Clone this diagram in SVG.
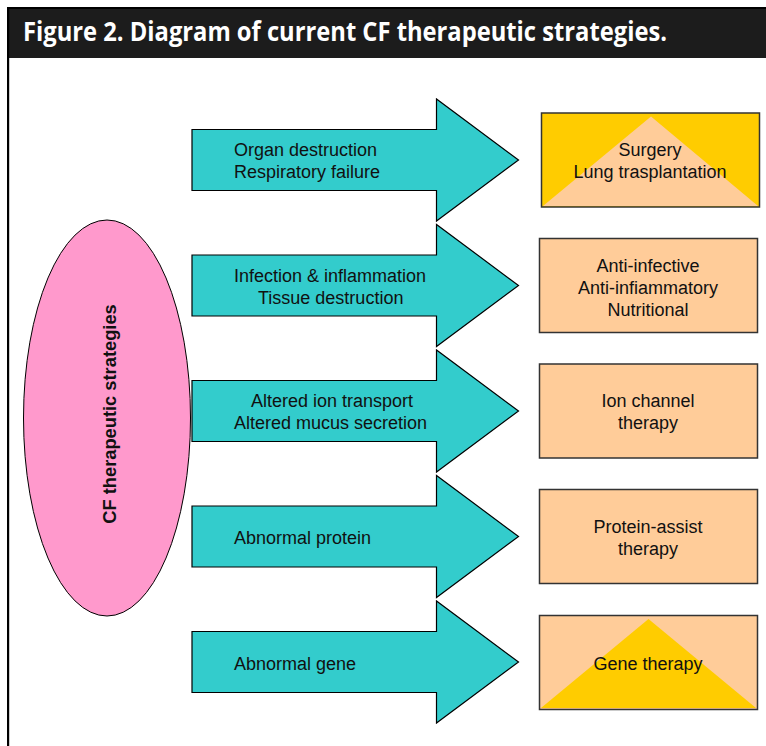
<svg xmlns="http://www.w3.org/2000/svg" width="766" height="746" viewBox="0 0 766 746">
  <style>
    .arrow { fill: #33CCCC; stroke: #000; stroke-width: 1.2; stroke-linejoin: miter; }
    .box { fill: #FFCC99; stroke: #333; stroke-width: 1.5; }
    .boxg { fill: #FFCC00; stroke: #333; stroke-width: 1.5; }
    .t { font-family: "Liberation Sans", Arial, sans-serif; font-size: 18px; fill: #111; }
    .c { text-anchor: middle; }
  </style>
  <rect x="0" y="0" width="766" height="746" fill="#fff"/>
  <g id="header">
    <rect x="7" y="8" width="759" height="50" fill="#1c1c1c"/>
    <rect x="7" y="7" width="759" height="2" fill="#000"/>
    <text x="23" y="41" font-family="'Open Sans', 'Liberation Sans', sans-serif" font-weight="bold" font-size="26" fill="#fff" textLength="644" lengthAdjust="spacingAndGlyphs">Figure 2. Diagram of current CF therapeutic strategies.</text>
  </g>
  <rect id="frame-left" x="7" y="8" width="2.2" height="738" fill="#000"/>

  <g id="root">
    <ellipse cx="107" cy="418" rx="83.5" ry="198" fill="#FF99CC" stroke="#000" stroke-width="1"/>
    <text transform="translate(116 414) rotate(-90)" class="c" font-family="'Liberation Sans', Arial, sans-serif" font-weight="bold" font-size="18.3" fill="#111">CF therapeutic strategies</text>
  </g>

  <g id="connectors">
    <g id="arrow1">
      <path class="arrow" d="M192 129.5 H436.5 V99 L518.5 160 L436.5 221 V190.5 H192 Z"/>
      <text class="t" x="234" y="156">Organ destruction</text>
      <text class="t" x="234" y="178">Respiratory failure</text>
    </g>
    <g id="arrow2">
      <path class="arrow" d="M192 255 H436.5 V224.5 L518.5 285.5 L436.5 346.5 V316 H192 Z"/>
      <text class="t" x="234" y="282">Infection &amp; inflammation</text>
      <text class="t" x="258" y="304">Tissue destruction</text>
    </g>
    <g id="arrow3">
      <path class="arrow" d="M192 380.5 H436.5 V350 L518.5 411 L436.5 472 V441.5 H192 Z"/>
      <text class="t" x="251" y="407">Altered ion transport</text>
      <text class="t" x="234" y="429">Altered mucus secretion</text>
    </g>
    <g id="arrow4">
      <path class="arrow" d="M192 506 H436.5 V475.5 L518.5 536.5 L436.5 597.5 V567 H192 Z"/>
      <text class="t" x="234" y="544">Abnormal protein</text>
    </g>
    <g id="arrow5">
      <path class="arrow" d="M192 631.5 H436.5 V601 L518.5 662 L436.5 723 V692.5 H192 Z"/>
      <text class="t" x="234" y="670">Abnormal gene</text>
    </g>
  </g>

  <g id="box1">
    <rect class="boxg" x="541.5" y="113" width="218" height="94"/>
    <polygon points="651,116.5 543,206 758,206" fill="#FFCC99"/>
    <text class="t c" x="650" y="156">Surgery</text>
    <text class="t c" x="650" y="178">Lung trasplantation</text>
  </g>
  <g id="box2">
    <rect class="box" x="539.5" y="238.5" width="218" height="94"/>
    <text class="t c" x="648" y="272">Anti-infective</text>
    <text class="t c" x="648" y="294">Anti-infiammatory</text>
    <text class="t c" x="648" y="316">Nutritional</text>
  </g>
  <g id="box3">
    <rect class="box" x="539.5" y="364" width="218" height="94"/>
    <text class="t c" x="648" y="407">Ion channel</text>
    <text class="t c" x="648" y="429">therapy</text>
  </g>
  <g id="box4">
    <rect class="box" x="539.5" y="489.5" width="218" height="94"/>
    <text class="t c" x="648" y="533">Protein-assist</text>
    <text class="t c" x="648" y="555">therapy</text>
  </g>
  <g id="box5">
    <rect class="box" x="539.5" y="615.5" width="218" height="94"/>
    <polygon points="648.5,619 541,708 756,708" fill="#FFCC00"/>
    <text class="t c" x="648" y="670">Gene therapy</text>
  </g>
</svg>
